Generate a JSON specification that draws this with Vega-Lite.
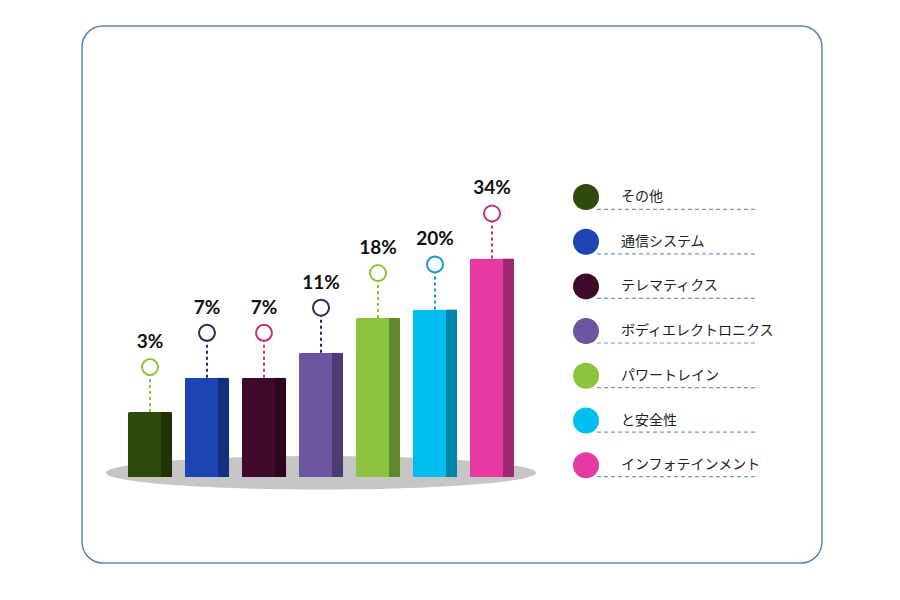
{
  "$schema": "https://vega.github.io/schema/vega-lite/v6.json",
  "width": 740,
  "height": 537,
  "autosize": {"type": "none"},
  "padding": {"left": 82, "top": 26, "right": 78, "bottom": 37},
  "background": "white",
  "config": {
    "view": {"stroke": "#5b85ab", "strokeWidth": 1.5, "cornerRadius": 21},
    "font": "Noto Sans CJK JP"
  },
  "data": {
    "values": [
      {"cat": "その他", "share": 0.03},
      {"cat": "通信システム", "share": 0.07},
      {"cat": "テレマティクス", "share": 0.07},
      {"cat": "ボディエレクトロニクス", "share": 0.11},
      {"cat": "パワートレイン", "share": 0.18},
      {"cat": "と安全性", "share": 0.20},
      {"cat": "インフォテインメント", "share": 0.34}
    ]
  },
  "layer": [
    {
      "transform": [{"filter": "datum.cat === 'ボディエレクトロニクス'"}],
      "mark": {"type": "point", "filled": true, "color": "#c6c6c6", "opacity": 1,
               "shape": "M-1,-0.02A1,0.078,0,1,1,1,-0.02A1,0.078,0,1,1,-1,-0.02Z",
               "size": 184900},
      "encoding": {
        "x": {"field": "cat", "type": "nominal", "axis": null,
              "scale": {"type": "band",
                        "domain": ["その他", "通信システム", "テレマティクス", "ボディエレクトロニクス", "パワートレイン", "と安全性", "インフォテインメント"],
                        "range": [39.5, 438.5], "paddingInner": 0.22, "paddingOuter": 0.11}},
        "y": {"datum": 0, "type": "quantitative", "axis": null,
              "scale": {"type": "sqrt", "domain": [0, 0.4], "range": [451, 214], "nice": false}}
      }
    },
    {
      "mark": {"type": "bar", "cornerRadiusTopLeft": 2, "cornerRadiusTopRight": 2},
      "encoding": {
        "x": {"field": "cat", "type": "nominal", "axis": null,
              "scale": {"type": "band",
                        "domain": ["その他", "通信システム", "テレマティクス", "ボディエレクトロニクス", "パワートレイン", "と安全性", "インフォテインメント"],
                        "range": [39.5, 438.5], "paddingInner": 0.22, "paddingOuter": 0.11}},
        "y": {"field": "share", "type": "quantitative", "axis": null,
              "scale": {"type": "sqrt", "domain": [0, 0.4], "range": [451, 214], "nice": false}},
        "color": {
          "field": "cat", "type": "nominal",
          "scale": {
            "domain": ["その他", "通信システム", "テレマティクス", "ボディエレクトロニクス", "パワートレイン", "と安全性", "インフォテインメント"],
            "range": ["#2e4a0c", "#1c44b3", "#3f0a2c", "#6c56a2", "#8cc43e", "#00bfee", "#e63aa2"]
          },
          "legend": {
            "title": null,
            "orient": "none",
            "legendX": 491,
            "legendY": 158,
            "padding": 0,
            "symbolType": "circle",
            "symbolSize": 676,
            "symbolStrokeWidth": 0,
            "symbolOpacity": 1,
            "rowPadding": 18.7,
            "labelOffset": 22,
            "labelFontSize": 14,
            "labelFont": "Noto Sans CJK JP",
            "labelColor": "#222222",
            "labelLimit": 300
          }
        }
      }
    },
    {
      "mark": {"type": "bar", "width": 11, "xOffset": 16.5, "color": "#000000", "opacity": 0.3},
      "encoding": {
        "x": {"field": "cat", "type": "nominal", "axis": null,
              "scale": {"type": "band",
                        "domain": ["その他", "通信システム", "テレマティクス", "ボディエレクトロニクス", "パワートレイン", "と安全性", "インフォテインメント"],
                        "range": [39.5, 438.5], "paddingInner": 0.22, "paddingOuter": 0.11}},
        "y": {"field": "share", "type": "quantitative", "axis": null,
              "scale": {"type": "sqrt", "domain": [0, 0.4], "range": [451, 214], "nice": false}}
      }
    },
    {
      "mark": {"type": "rule", "strokeDash": [3, 3], "strokeWidth": 2, "y2Offset": -37},
      "encoding": {
        "x": {"field": "cat", "type": "nominal", "axis": null,
              "scale": {"type": "band",
                        "domain": ["その他", "通信システム", "テレマティクス", "ボディエレクトロニクス", "パワートレイン", "と安全性", "インフォテインメント"],
                        "range": [39.5, 438.5], "paddingInner": 0.22, "paddingOuter": 0.11}},
        "y": {"field": "share", "type": "quantitative", "axis": null,
              "scale": {"type": "sqrt", "domain": [0, 0.4], "range": [451, 214], "nice": false}},
        "y2": {"field": "share"},
        "stroke": {
          "field": "cat", "type": "nominal", "legend": null,
          "scale": {
            "domain": ["その他", "通信システム", "テレマティクス", "ボディエレクトロニクス", "パワートレイン", "と安全性", "インフォテインメント"],
            "range": ["#8cc43e", "#2b2b60", "#c2307f", "#2b2b60", "#8cc43e", "#1a9cc6", "#c2307f"]
          }
        }
      }
    },
    {
      "mark": {"type": "point", "shape": "circle", "filled": true, "fill": "white", "strokeWidth": 2, "size": 256, "yOffset": -45, "opacity": 1},
      "encoding": {
        "x": {"field": "cat", "type": "nominal", "axis": null,
              "scale": {"type": "band",
                        "domain": ["その他", "通信システム", "テレマティクス", "ボディエレクトロニクス", "パワートレイン", "と安全性", "インフォテインメント"],
                        "range": [39.5, 438.5], "paddingInner": 0.22, "paddingOuter": 0.11}},
        "y": {"field": "share", "type": "quantitative", "axis": null,
              "scale": {"type": "sqrt", "domain": [0, 0.4], "range": [451, 214], "nice": false}},
        "stroke": {
          "field": "cat", "type": "nominal", "legend": null,
          "scale": {
            "domain": ["その他", "通信システム", "テレマティクス", "ボディエレクトロニクス", "パワートレイン", "と安全性", "インフォテインメント"],
            "range": ["#8cc43e", "#2b2b60", "#c2307f", "#2b2b60", "#8cc43e", "#1a9cc6", "#c2307f"]
          }
        }
      }
    },
    {
      "mark": {"type": "text", "font": "Lato", "fontWeight": "bold", "fontSize": 19, "color": "#111111", "yOffset": -70, "baseline": "middle"},
      "encoding": {
        "x": {"field": "cat", "type": "nominal", "axis": null,
              "scale": {"type": "band",
                        "domain": ["その他", "通信システム", "テレマティクス", "ボディエレクトロニクス", "パワートレイン", "と安全性", "インフォテインメント"],
                        "range": [39.5, 438.5], "paddingInner": 0.22, "paddingOuter": 0.11}},
        "y": {"field": "share", "type": "quantitative", "axis": null,
              "scale": {"type": "sqrt", "domain": [0, 0.4], "range": [451, 214], "nice": false}},
        "text": {"field": "share", "type": "quantitative", "format": ".0%"}
      }
    },
    {
      "mark": {"type": "point", "shape": "M-1,0H1", "size": 25921, "filled": false, "strokeDash": [4, 3], "strokeWidth": 1.2, "stroke": "#6f9cc4", "opacity": 1},
      "encoding": {
        "y": {"field": "cat", "type": "nominal", "axis": null,
              "scale": {"type": "point",
                        "domain": ["その他", "通信システム", "テレマティクス", "ボディエレクトロニクス", "パワートレイン", "と安全性", "インフォテインメント"],
                        "range": [183.3, 450.7], "padding": 0}},
        "x": {"datum": 0.5, "type": "quantitative", "axis": null,
              "scale": {"type": "linear", "domain": [0, 1], "range": [515, 676], "nice": false, "zero": false}}
      }
    }
  ],
  "resolve": {"scale": {"x": "independent", "y": "independent"}}
}
